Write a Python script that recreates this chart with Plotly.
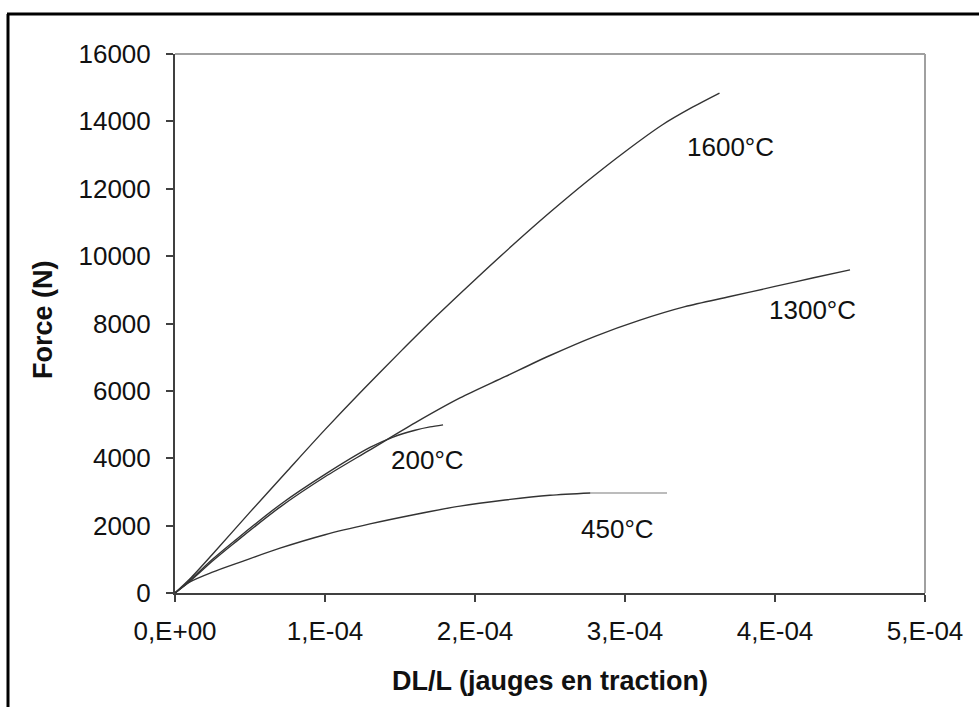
import plotly.graph_objects as go

# ---- data (x in units of 1e-4, y in N) ----
x_1600 = [0, 0.1, 0.25, 0.5, 0.75, 1.0, 1.25, 1.5, 1.75, 2.0, 2.25, 2.5, 2.75, 3.0, 3.25, 3.45, 3.63]
y_1600 = [0, 420, 1150, 2400, 3630, 4850, 6020, 7150, 8250, 9300, 10320, 11300, 12230, 13100, 13900, 14420, 14840]

x_1300 = [0, 0.1, 0.25, 0.4, 0.7, 1.0, 1.3, 1.6, 1.9, 2.2, 2.5, 2.8, 3.1, 3.4, 3.7, 4.0, 4.25, 4.5]
y_1300 = [0, 350, 950, 1500, 2550, 3450, 4250, 5050, 5790, 6420, 7050, 7620, 8100, 8500, 8800, 9100, 9350, 9590]

x_200 = [0, 0.1, 0.25, 0.4, 0.7, 1.0, 1.3, 1.45, 1.6, 1.7, 1.787]
y_200 = [0, 380, 1000, 1560, 2620, 3520, 4320, 4620, 4830, 4930, 4990]

x_450 = [0, 0.1, 0.25, 0.45, 0.7, 1.0, 1.3, 1.6, 1.9, 2.2, 2.5, 2.77]
y_450 = [0, 330, 620, 940, 1330, 1730, 2050, 2330, 2580, 2760, 2900, 2970]
x_450_tail = [2.77, 3.28]
y_450_tail = [2970, 2970]

x_tickvals = [0, 1, 2, 3, 4, 5]
x_ticktext = ["0,E+00", "1,E-04", "2,E-04", "3,E-04", "4,E-04", "5,E-04"]
y_tickvals = [0, 2000, 4000, 6000, 8000, 10000, 12000, 14000, 16000]
y_ticktext = ["0", "2000", "4000", "6000", "8000", "10000", "12000", "14000", "16000"]

labels = ["1600°C", "1300°C", "200°C", "450°C"]
label_x = [3.70, 4.247, 1.68, 2.947]
label_y = [13239, 8401, 3948, 1900]

SCALE = 1e-4
FONT = "Liberation Sans, Arial, sans-serif"
LINE = "#333333"

fig = go.Figure()
for xs, ys in [(x_1600, y_1600), (x_1300, y_1300), (x_200, y_200), (x_450, y_450)]:
    fig.add_trace(go.Scatter(x=[v * SCALE for v in xs], y=ys, mode="lines",
                             line=dict(color=LINE, width=1.4, shape="spline", smoothing=0.8),
                             showlegend=False, hoverinfo="skip"))
fig.add_trace(go.Scatter(x=[v * SCALE for v in x_450_tail], y=y_450_tail, mode="lines",
                         line=dict(color="#a6a6a6", width=1.6), showlegend=False,
                         hoverinfo="skip"))

for t, lx, ly in zip(labels, label_x, label_y):
    fig.add_annotation(x=lx * SCALE, y=ly, text=t, showarrow=False,
                       font=dict(family=FONT, size=26, color="#111111"),
                       xanchor="center", yanchor="middle")

# axis titles
fig.add_annotation(xref="paper", yref="paper", x=0.5, y=-0.1633,
                   text="<b>DL/L (jauges en traction)</b>", showarrow=False,
                   font=dict(family=FONT, size=27, color="#111111"),
                   xanchor="center", yanchor="middle")
fig.add_annotation(xref="paper", yref="paper", x=-0.176, y=0.5065,
                   text="<b>Force (N)</b>", showarrow=False, textangle=-90,
                   font=dict(family=FONT, size=27, color="#111111"),
                   xanchor="center", yanchor="middle")

# plot frame top/right (gray)
fig.add_shape(type="line", xref="paper", yref="paper", x0=0, x1=1, y0=1, y1=1,
              line=dict(color="#a0a0a0", width=2))
fig.add_shape(type="line", xref="paper", yref="paper", x0=1, x1=1, y0=0, y1=1,
              line=dict(color="#a0a0a0", width=2))

# outer black border (top and left visible)
W, H = 979, 707
L, R, T, B = 175, 54, 54, 114
pw, ph = W - L - R, H - T - B
def px(xp): return (xp - L) / pw
def py(yp): return (H - B - yp) / ph
fig.add_shape(type="line", xref="paper", yref="paper", x0=px(7), x1=px(990), y0=py(14), y1=py(14),
              line=dict(color="black", width=3))
fig.add_shape(type="line", xref="paper", yref="paper", x0=px(8), x1=px(8), y0=py(14), y1=py(720),
              line=dict(color="black", width=3))

fig.update_xaxes(range=[0, 5 * SCALE], tickvals=[v * SCALE for v in x_tickvals], ticktext=x_ticktext,
                 showgrid=False, zeroline=False, showline=True, linecolor="#404040", linewidth=2,
                 ticks="outside", ticklen=7, tickwidth=2, tickcolor="#404040", ticklabelstandoff=7,
                 tickfont=dict(family=FONT, size=26, color="#111111"))
fig.update_yaxes(range=[0, 16000], tickvals=y_tickvals, ticktext=y_ticktext,
                 showgrid=False, zeroline=False, showline=True, linecolor="#404040", linewidth=2,
                 ticks="outside", ticklen=7, tickwidth=2, tickcolor="#404040", ticklabelstandoff=10,
                 tickfont=dict(family=FONT, size=26, color="#111111"))

fig.update_layout(width=W, height=H, margin=dict(l=L, r=R, t=T, b=B, pad=0),
                  plot_bgcolor="white", paper_bgcolor="white", showlegend=False)

fig.write_html("out.html")
